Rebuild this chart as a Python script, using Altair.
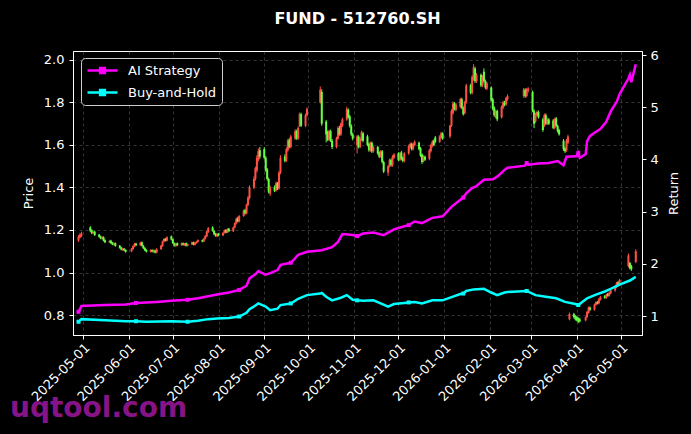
import altair as alt
import pandas as pd

# ---------------- trading calendar (China A-share) ----------------
holidays = [
    "2025-05-01", "2025-05-02", "2025-05-05", "2025-06-02",
    "2025-10-01", "2025-10-02", "2025-10-03", "2025-10-06", "2025-10-07", "2025-10-08",
    "2026-01-01", "2026-01-02",
    "2026-02-16", "2026-02-17", "2026-02-18", "2026-02-19", "2026-02-20", "2026-02-23",
    "2026-04-06", "2026-05-01", "2026-05-04", "2026-05-05",
]
all_days = pd.bdate_range("2025-04-28", "2026-05-11")
trade_days = [d.strftime("%Y-%m-%d") for d in all_days if d.strftime("%Y-%m-%d") not in holidays]

# ---------------- price candles ----------------
open_px = [
    1.150, 1.165, 1.172,
    1.212, 1.198, 1.185, 1.192, 1.178, 1.170, 1.158, 1.166, 1.152, 1.142, 1.150, 1.140, 1.130, 1.138, 1.126, 1.118, 1.106, 1.112, 1.106,
    1.100, 1.110, 1.122, 1.136, 1.128, 1.142, 1.126, 1.116, 1.106, 1.098, 1.106, 1.096, 1.104, 1.094, 1.110, 1.124, 1.146, 1.158, 1.150, 1.170,
    1.156, 1.138, 1.124, 1.138, 1.128, 1.138, 1.128, 1.138, 1.126, 1.132, 1.142, 1.130, 1.138, 1.144, 1.152, 1.146, 1.158, 1.170, 1.190, 1.212, 1.196, 1.182, 1.170,
    1.182, 1.174, 1.186, 1.200, 1.188, 1.206, 1.194, 1.212, 1.230, 1.254, 1.240, 1.266, 1.294, 1.278, 1.318, 1.350, 1.400, 1.440, 1.480, 1.530, 1.575,
    1.580, 1.540, 1.485, 1.440, 1.370, 1.400, 1.385, 1.420, 1.395, 1.470, 1.545, 1.525, 1.575, 1.625, 1.590, 1.630, 1.665, 1.630, 1.690, 1.745, 1.690, 1.740,
    1.800, 1.850, 1.710, 1.660, 1.625, 1.665, 1.620, 1.590, 1.630, 1.680, 1.650, 1.690, 1.720, 1.765, 1.735, 1.690, 1.650,
    1.600, 1.640, 1.590, 1.625, 1.655, 1.640, 1.605, 1.575, 1.610, 1.570, 1.590, 1.565, 1.545, 1.570, 1.520, 1.470, 1.500, 1.530, 1.505, 1.540,
    1.560, 1.530, 1.565, 1.540, 1.525, 1.560, 1.590, 1.605, 1.580, 1.600, 1.610, 1.585, 1.555, 1.525, 1.545, 1.535, 1.570, 1.595, 1.620, 1.635, 1.615, 1.635, 1.655,
    1.640, 1.690, 1.750, 1.795, 1.765, 1.780, 1.815, 1.775, 1.750, 1.800, 1.880, 1.845, 1.910, 1.960, 1.900, 1.930, 1.880, 1.945, 1.900, 1.865,
    1.870, 1.815, 1.775, 1.730, 1.760, 1.730, 1.775, 1.800, 1.790, 1.815, 1.830, 1.860, 1.830, 1.855,
    1.850, 1.760, 1.710, 1.740, 1.755, 1.720, 1.690, 1.740, 1.700, 1.720, 1.715, 1.680, 1.725, 1.690, 1.670, 1.620, 1.585, 1.575, 1.610, 0.780, 0.805, 0.795,
    0.790, 0.785, 0.780, 0.775, 0.790, 0.810, 0.835, 0.825, 0.848, 0.862, 0.855, 0.872, 0.890, 0.880, 0.900, 0.890, 0.902, 0.915, 0.930, 0.955, 0.945,
    1.030, 1.045, 1.030, 1.050,
]
close_px = [
    1.168, 1.178, 1.184,
    1.196, 1.185, 1.190, 1.176, 1.168, 1.160, 1.166, 1.150, 1.142, 1.148, 1.138, 1.132, 1.138, 1.125, 1.116, 1.108, 1.112, 1.104, 1.098,
    1.112, 1.124, 1.134, 1.128, 1.140, 1.126, 1.114, 1.104, 1.098, 1.106, 1.098, 1.104, 1.094, 1.110, 1.126, 1.146, 1.158, 1.150, 1.166, 1.155,
    1.138, 1.126, 1.136, 1.128, 1.138, 1.130, 1.136, 1.126, 1.134, 1.142, 1.132, 1.140, 1.146, 1.152, 1.146, 1.160, 1.172, 1.192, 1.208, 1.196, 1.180, 1.172, 1.182,
    1.174, 1.186, 1.198, 1.188, 1.204, 1.194, 1.212, 1.232, 1.252, 1.240, 1.266, 1.290, 1.278, 1.318, 1.352, 1.400, 1.440, 1.490, 1.540, 1.570, 1.545,
    1.540, 1.480, 1.440, 1.380, 1.400, 1.385, 1.420, 1.395, 1.470, 1.540, 1.525, 1.580, 1.620, 1.590, 1.640, 1.665, 1.630, 1.680, 1.745, 1.690, 1.740, 1.770,
    1.860, 1.700, 1.650, 1.625, 1.665, 1.620, 1.590, 1.630, 1.680, 1.650, 1.700, 1.720, 1.770, 1.730, 1.690, 1.650, 1.630,
    1.640, 1.590, 1.630, 1.660, 1.620, 1.600, 1.575, 1.610, 1.570, 1.590, 1.560, 1.545, 1.570, 1.520, 1.475, 1.500, 1.530, 1.505, 1.545, 1.555,
    1.530, 1.560, 1.535, 1.525, 1.560, 1.595, 1.605, 1.580, 1.605, 1.615, 1.580, 1.550, 1.520, 1.545, 1.530, 1.575, 1.600, 1.615, 1.600, 1.615, 1.640, 1.655, 1.630,
    1.690, 1.760, 1.795, 1.770, 1.790, 1.815, 1.775, 1.745, 1.800, 1.880, 1.845, 1.920, 1.965, 1.900, 1.930, 1.880, 1.920, 1.900, 1.870, 1.890,
    1.810, 1.770, 1.740, 1.760, 1.720, 1.780, 1.800, 1.790, 1.820, 1.830, 1.860, 1.830, 1.860, 1.865,
    1.760, 1.700, 1.745, 1.755, 1.730, 1.670, 1.740, 1.700, 1.720, 1.700, 1.680, 1.720, 1.690, 1.665, 1.650, 1.580, 1.570, 1.620, 1.640, 0.805, 0.790, 0.780,
    0.775, 0.770, 0.770, 0.790, 0.815, 0.835, 0.825, 0.850, 0.860, 0.855, 0.875, 0.885, 0.880, 0.895, 0.890, 0.905, 0.915, 0.935, 0.950, 0.945, 0.965,
    1.080, 1.020, 1.015, 1.100,
]
high_px = [
    1.176, 1.186, 1.192,
    1.218, 1.203, 1.195, 1.197, 1.182, 1.174, 1.170, 1.170, 1.156, 1.152, 1.154, 1.144, 1.142, 1.141, 1.130, 1.121, 1.116, 1.115, 1.109,
    1.116, 1.128, 1.139, 1.140, 1.144, 1.146, 1.130, 1.119, 1.110, 1.110, 1.109, 1.108, 1.107, 1.114, 1.130, 1.150, 1.162, 1.162, 1.170, 1.174,
    1.160, 1.141, 1.140, 1.141, 1.141, 1.141, 1.139, 1.141, 1.137, 1.145, 1.145, 1.143, 1.149, 1.156, 1.155, 1.163, 1.176, 1.196, 1.214, 1.218, 1.199, 1.186, 1.186,
    1.186, 1.190, 1.202, 1.204, 1.208, 1.210, 1.216, 1.236, 1.258, 1.262, 1.270, 1.296, 1.300, 1.324, 1.360, 1.410, 1.452, 1.498, 1.552, 1.584, 1.590,
    1.590, 1.548, 1.492, 1.446, 1.408, 1.410, 1.428, 1.426, 1.478, 1.552, 1.556, 1.588, 1.628, 1.632, 1.648, 1.674, 1.672, 1.688, 1.752, 1.752, 1.748, 1.776,
    1.875, 1.862, 1.718, 1.668, 1.672, 1.672, 1.628, 1.638, 1.688, 1.690, 1.706, 1.728, 1.780, 1.772, 1.742, 1.698, 1.658,
    1.648, 1.646, 1.636, 1.668, 1.662, 1.648, 1.612, 1.616, 1.616, 1.596, 1.596, 1.570, 1.576, 1.576, 1.526, 1.506, 1.536, 1.536, 1.552, 1.562,
    1.566, 1.566, 1.572, 1.546, 1.566, 1.602, 1.612, 1.610, 1.612, 1.622, 1.616, 1.590, 1.560, 1.552, 1.550, 1.582, 1.606, 1.622, 1.626, 1.642, 1.646, 1.662, 1.660,
    1.696, 1.768, 1.804, 1.802, 1.798, 1.822, 1.822, 1.782, 1.808, 1.888, 1.888, 1.928, 1.980, 1.968, 1.938, 1.936, 1.928, 1.960, 1.908, 1.898,
    1.876, 1.822, 1.782, 1.766, 1.766, 1.786, 1.808, 1.808, 1.826, 1.838, 1.868, 1.866, 1.868, 1.872,
    1.856, 1.768, 1.752, 1.762, 1.762, 1.728, 1.748, 1.748, 1.728, 1.726, 1.722, 1.728, 1.732, 1.696, 1.676, 1.628, 1.592, 1.628, 1.648, 0.812, 0.810, 0.800,
    0.796, 0.790, 0.786, 0.794, 0.820, 0.840, 0.840, 0.854, 0.864, 0.866, 0.880, 0.890, 0.894, 0.900, 0.904, 0.910, 0.920, 0.940, 0.956, 0.960, 0.970,
    1.090, 1.050, 1.036, 1.110,
]
low_px = [
    1.144, 1.160, 1.166,
    1.190, 1.180, 1.181, 1.172, 1.164, 1.156, 1.155, 1.146, 1.138, 1.139, 1.134, 1.128, 1.127, 1.121, 1.112, 1.104, 1.102, 1.100, 1.093,
    1.096, 1.107, 1.119, 1.124, 1.125, 1.122, 1.111, 1.101, 1.094, 1.094, 1.095, 1.092, 1.090, 1.090, 1.106, 1.121, 1.142, 1.146, 1.146, 1.151,
    1.134, 1.122, 1.121, 1.124, 1.125, 1.127, 1.125, 1.122, 1.123, 1.129, 1.128, 1.127, 1.135, 1.141, 1.142, 1.143, 1.155, 1.167, 1.186, 1.192, 1.176, 1.168, 1.166,
    1.170, 1.171, 1.183, 1.184, 1.185, 1.190, 1.190, 1.208, 1.226, 1.236, 1.236, 1.262, 1.272, 1.274, 1.312, 1.344, 1.392, 1.432, 1.470, 1.522, 1.535,
    1.532, 1.474, 1.432, 1.372, 1.360, 1.378, 1.380, 1.388, 1.390, 1.462, 1.518, 1.520, 1.568, 1.584, 1.584, 1.624, 1.624, 1.624, 1.684, 1.684, 1.684, 1.732,
    1.795, 1.690, 1.612, 1.618, 1.618, 1.614, 1.580, 1.584, 1.624, 1.644, 1.642, 1.684, 1.714, 1.724, 1.682, 1.642, 1.622,
    1.560, 1.584, 1.584, 1.618, 1.612, 1.594, 1.568, 1.568, 1.562, 1.564, 1.554, 1.538, 1.540, 1.512, 1.468, 1.455, 1.494, 1.498, 1.498, 1.534,
    1.524, 1.524, 1.528, 1.518, 1.518, 1.554, 1.584, 1.574, 1.574, 1.594, 1.574, 1.544, 1.510, 1.518, 1.524, 1.528, 1.564, 1.588, 1.594, 1.608, 1.610, 1.628, 1.624,
    1.632, 1.684, 1.742, 1.762, 1.758, 1.772, 1.768, 1.738, 1.744, 1.794, 1.838, 1.838, 1.902, 1.892, 1.892, 1.872, 1.872, 1.892, 1.862, 1.858,
    1.804, 1.762, 1.732, 1.724, 1.712, 1.724, 1.768, 1.782, 1.784, 1.808, 1.822, 1.822, 1.824, 1.846,
    1.754, 1.680, 1.704, 1.734, 1.724, 1.662, 1.684, 1.694, 1.694, 1.694, 1.674, 1.674, 1.684, 1.658, 1.644, 1.572, 1.562, 1.568, 1.604, 0.775, 0.784, 0.774,
    0.770, 0.762, 0.765, 0.770, 0.786, 0.806, 0.820, 0.820, 0.844, 0.850, 0.850, 0.868, 0.876, 0.876, 0.886, 0.886, 0.898, 0.910, 0.926, 0.940, 0.940,
    1.024, 1.014, 1.008, 1.044,
]

# ---------------- return curves ----------------
ai_dates = [
    "2025-04-28", "2025-04-30", "2025-05-16", "2025-05-30", "2025-06-06", "2025-06-20", "2025-06-30",
    "2025-07-11", "2025-07-18", "2025-07-25", "2025-07-31", "2025-08-08", "2025-08-15", "2025-08-20",
    "2025-08-22", "2025-08-26", "2025-08-28", "2025-09-02", "2025-09-05", "2025-09-10", "2025-09-12",
    "2025-09-19", "2025-09-24", "2025-09-30", "2025-10-10", "2025-10-17", "2025-10-21", "2025-10-24",
    "2025-10-31", "2025-11-03", "2025-11-07", "2025-11-14", "2025-11-21", "2025-11-28", "2025-12-05",
    "2025-12-08", "2025-12-12", "2025-12-17", "2025-12-24", "2025-12-31", "2026-01-06", "2026-01-09",
    "2026-01-14", "2026-01-16", "2026-01-20", "2026-01-23", "2026-01-28", "2026-02-03", "2026-02-06",
    "2026-02-11", "2026-02-13", "2026-02-25", "2026-02-26", "2026-02-27", "2026-03-06", "2026-03-13",
    "2026-03-19", "2026-03-23", "2026-03-25", "2026-03-31", "2026-04-01", "2026-04-02", "2026-04-03",
    "2026-04-07", "2026-04-08", "2026-04-10", "2026-04-14", "2026-04-17", "2026-04-21", "2026-04-24",
    "2026-04-28", "2026-04-30", "2026-05-06", "2026-05-07", "2026-05-08", "2026-05-11",
]
ai_values = [
    1.08, 1.19, 1.21, 1.22, 1.25, 1.27, 1.29,
    1.31, 1.34, 1.38, 1.41, 1.45, 1.50, 1.58,
    1.72, 1.80, 1.86, 1.79, 1.82, 1.88, 1.98,
    2.02, 2.17, 2.23, 2.26, 2.32, 2.42, 2.57,
    2.55, 2.53, 2.58, 2.60, 2.55, 2.66, 2.72,
    2.74, 2.81, 2.78, 2.88, 2.91, 3.09, 3.16,
    3.27, 3.35, 3.45, 3.49, 3.61, 3.62, 3.67,
    3.80, 3.84, 3.88, 3.93, 3.90, 3.92, 3.93,
    3.97, 3.89, 4.05, 4.06, 4.06, 4.12, 4.03,
    4.10, 4.35, 4.45, 4.53, 4.58, 4.72, 4.92,
    5.10, 5.25, 5.55, 5.62, 5.48, 5.82,
]
bh_dates = [
    "2025-04-28", "2025-04-30", "2025-05-16", "2025-05-30", "2025-06-06", "2025-06-13", "2025-06-30",
    "2025-07-11", "2025-07-18", "2025-07-25", "2025-07-31", "2025-08-08", "2025-08-15", "2025-08-20",
    "2025-08-22", "2025-08-26", "2025-08-28", "2025-09-02", "2025-09-05", "2025-09-10", "2025-09-12",
    "2025-09-19", "2025-09-24", "2025-09-30", "2025-10-09", "2025-10-10", "2025-10-13", "2025-10-17",
    "2025-10-23", "2025-10-27", "2025-10-31", "2025-11-03", "2025-11-07", "2025-11-14", "2025-11-19",
    "2025-11-24", "2025-11-28", "2025-12-05", "2025-12-08", "2025-12-12", "2025-12-17", "2025-12-24",
    "2025-12-31", "2026-01-07", "2026-01-12", "2026-01-14", "2026-01-16", "2026-01-21", "2026-01-28",
    "2026-02-02", "2026-02-06", "2026-02-11", "2026-02-13", "2026-02-26", "2026-03-04", "2026-03-11",
    "2026-03-18", "2026-03-24", "2026-03-31", "2026-04-02", "2026-04-08", "2026-04-14", "2026-04-20",
    "2026-04-24", "2026-04-30", "2026-05-07", "2026-05-11",
]
bh_values = [
    0.89, 0.94, 0.92, 0.90, 0.90, 0.89, 0.90,
    0.89, 0.91, 0.94, 0.95, 0.96, 0.99, 1.06,
    1.13, 1.20, 1.24, 1.18, 1.11, 1.14, 1.21,
    1.24, 1.33, 1.40, 1.43, 1.44, 1.37, 1.30,
    1.35, 1.40, 1.31, 1.30, 1.29, 1.30, 1.24,
    1.18, 1.23, 1.25, 1.26, 1.27, 1.24, 1.30,
    1.30, 1.37, 1.42, 1.43, 1.48, 1.51, 1.52,
    1.45, 1.40, 1.45, 1.46, 1.48, 1.40, 1.37,
    1.34, 1.27, 1.23, 1.21, 1.34, 1.41, 1.47,
    1.52, 1.60, 1.68, 1.75,
]
series_names = ["AI Strategy", "Buy-and-Hold"]
chart_title = "FUND - 512760.SH"
watermark = "uqtool.com"
marker_every = 25

# ---------------- tables ----------------
n = len(trade_days)
if not (len(open_px) == len(close_px) == len(high_px) == len(low_px) == n):
    raise ValueError(f"length mismatch {n} {len(open_px)} {len(close_px)} {len(high_px)} {len(low_px)}")

candles = pd.DataFrame({
    "date": [d + "T00:00:00" for d in trade_days],
    "open": open_px, "close": close_px, "high": high_px, "low": low_px,
})
lines_df = pd.concat([
    pd.DataFrame({"date": [d + "T00:00:00" for d in ai_dates], "value": ai_values, "series": series_names[0]}),
    pd.DataFrame({"date": [d + "T00:00:00" for d in bh_dates], "value": bh_values, "series": series_names[1]}),
], ignore_index=True)
marker_dates = [d + "T00:00:00" for d in trade_days[::marker_every]]
points_df = lines_df[lines_df["date"].isin(marker_dates)]

# ---------------- styling ----------------
RED, GREEN = "#ff5046", "#66ff44"
MAGENTA, CYAN = "#ff00ff", "#00ffff"
FONT = "DejaVu Sans"
PLOT_W, PLOT_H = 569, 284

x_scale = alt.Scale(domain=[alt.DateTime(year=2025, month=4, date=27, hours=16),
                            alt.DateTime(year=2026, month=5, date=11, hours=20)])
month_ticks = [alt.DateTime(year=y, month=m, date=1)
               for (y, m) in [(2025, 5), (2025, 6), (2025, 7), (2025, 8), (2025, 9), (2025, 10),
                              (2025, 11), (2025, 12), (2026, 1), (2026, 2), (2026, 3), (2026, 4), (2026, 5)]]
x_axis = alt.Axis(values=month_ticks, format="%Y-%m-%d", labelAngle=-45, labelAlign="right",
                  labelBaseline="top", grid=True, title=None, labelPadding=2,
                  labelOverlap=False, labelFlush=False)
X = alt.X("date:T", scale=x_scale, axis=x_axis)

price_scale = alt.Scale(domain=[0.706, 2.042], zero=False, nice=False)
price_axis = alt.Axis(values=[0.8, 1.0, 1.2, 1.4, 1.6, 1.8, 2.0], format=".1f", title="Price",
                      grid=True, orient="left", titleAngle=270, titleX=-45, titleY=PLOT_H / 2,
                      titleAlign="center", titleBaseline="middle", labelOverlap=False,
                      labelPadding=5)
ret_scale = alt.Scale(domain=[0.636, 6.077], zero=False, nice=False)
ret_axis = alt.Axis(values=[1, 2, 3, 4, 5, 6], format="d", title="Return", grid=False,
                    orient="right", titleAngle=270, titleX=31, titleY=PLOT_H / 2,
                    titleAlign="center", titleBaseline="middle", labelOverlap=False,
                    labelPadding=4)

candle_color = alt.condition("datum.close >= datum.open", alt.value(RED), alt.value(GREEN))

wick = alt.Chart(candles).mark_rule(strokeWidth=1).encode(
    x=X, y=alt.Y("low:Q", scale=price_scale, axis=price_axis), y2="high:Q", color=candle_color)
body = alt.Chart(candles).mark_bar(size=2).encode(
    x=X, y=alt.Y("open:Q", scale=price_scale, axis=price_axis), y2="close:Q", color=candle_color)

# line-with-marker legend symbol (line 30 px wide, small square in the middle)
legend_path = "M-2.5,0L2.5,0M-0.4,-0.4L0.4,-0.4L0.4,0.4L-0.4,0.4Z"
legend = alt.Legend(title=None, orient="none", legendX=8, legendY=7, symbolType=legend_path,
                    symbolSize=144, symbolStrokeWidth=2.5, symbolOffset=9, labelOffset=18,
                    labelColor="white", labelFontSize=13, labelFont=FONT,
                    fillColor="black", strokeColor="#cccccc", cornerRadius=4,
                    padding=5, rowPadding=7)
color = alt.Color("series:N", scale=alt.Scale(domain=series_names, range=[MAGENTA, CYAN]), legend=legend)
Y_ret = alt.Y("value:Q", scale=ret_scale, axis=ret_axis)

line = alt.Chart(lines_df).mark_line(strokeWidth=2.5).encode(x=X, y=Y_ret, color=color)
pts = alt.Chart(points_df).mark_point(shape="square", filled=True, size=16, opacity=1).encode(
    x=X, y=Y_ret, color=color)

wm = alt.Chart(pd.DataFrame({"t": [watermark]})).mark_text(
    font=FONT, fontSize=28, fontWeight="bold", color="#8e168e", align="left",
    baseline="alphabetic", opacity=0.95
).encode(text="t:N", x=alt.value(-63), y=alt.value(366))

title_txt = alt.Chart(pd.DataFrame({"t": [chart_title]})).mark_text(
    font=FONT, fontSize=16, fontWeight="bold", color="white", align="center",
    baseline="alphabetic"
).encode(text="t:N", x=alt.value(PLOT_W / 2), y=alt.value(-27))

chart = alt.layer(
    alt.layer(wick, body),
    alt.layer(line, pts),
    wm,
    title_txt,
).resolve_scale(y="independent").properties(
    width=PLOT_W, height=PLOT_H,
    padding={"left": 73, "top": 51, "right": 49, "bottom": 99},
    autosize=alt.AutoSizeParams(type="none"),
    background="black",
).configure_view(
    stroke="white", strokeWidth=1
).configure_axis(
    labelColor="white", titleColor="white", domainColor="white", tickColor="white",
    gridColor="#777777", gridDash=[3, 3], gridOpacity=0.55, gridWidth=0.8,
    labelFont=FONT, titleFont=FONT, labelFontSize=13, titleFontSize=13,
    titleFontWeight="normal", tickSize=4, labelPadding=3,
)

chart.save("out.html", embed_options={"renderer": "svg", "actions": False})
